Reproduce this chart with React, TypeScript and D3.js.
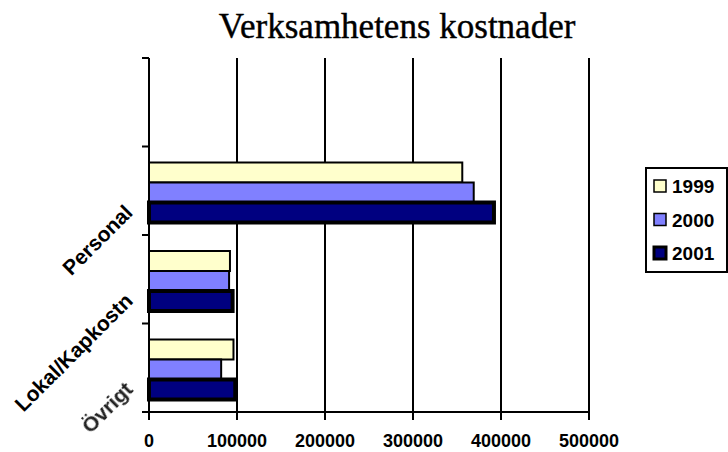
import React, { useRef, useEffect } from "react";
import * as d3 from "d3";

const categories = ["", "Personal", "Lokal/Kapkostn", "Övrigt"];
const years = ["1999", "2000", "2001"];
const values1999 = [null, 356000, 92000, 96000];
const values2000 = [null, 369000, 91000, 82000];
const values2001 = [null, 392000, 95000, 98000];
const xTicks = [0, 100000, 200000, 300000, 400000, 500000];

const fills = ["#FFFFCC", "#8080FF", "#000080"];

const App = () => {
  const ref = useRef<SVGSVGElement>(null);
  const width = 728;
  const height = 452;

  useEffect(() => {
    const svg = d3.select(ref.current);
    svg.selectAll("*").remove();

    const margin = { top: 58, left: 149, right: 589, bottom: 412 };
    const series = [values1999, values2000, values2001];

    const x = d3.scaleLinear().domain([0, 500000]).range([margin.left, margin.right]);
    const y = d3.scaleBand().domain(categories).range([margin.top, margin.bottom]);
    const y1 = d3.scaleBand().domain(years).range([16, 76]);

    const defs = svg.append("defs");
    defs
      .append("filter")
      .attr("id", "soft")
      .append("feGaussianBlur")
      .attr("stdDeviation", 0.6);

    // title
    svg
      .append("text")
      .attr("x", 397)
      .attr("y", 38)
      .attr("text-anchor", "middle")
      .attr("font-family", "'Liberation Serif', serif")
      .attr("font-size", 35)
      .attr("stroke", "#000")
      .attr("stroke-width", 0.4)
      .text("Verksamhetens kostnader");

    // gridlines
    svg
      .append("g")
      .selectAll("line")
      .data(xTicks.slice(1))
      .join("line")
      .attr("x1", (d) => x(d))
      .attr("x2", (d) => x(d))
      .attr("y1", margin.top)
      .attr("y2", margin.bottom)
      .attr("stroke", "#000")
      .attr("stroke-width", 2);

    // bars
    const g = svg.append("g");
    categories.forEach((c, i) => {
      years.forEach((yr, j) => {
        const v = series[j][i];
        if (v == null) return;
        const sw = j === 2 ? 4 : 2;
        g.append("rect")
          .attr("x", x(0))
          .attr("y", (y(c) as number) + (y1(yr) as number))
          .attr("width", x(v) - x(0))
          .attr("height", y1.bandwidth())
          .attr("fill", fills[j])
          .attr("stroke", "#000")
          .attr("stroke-width", sw);
      });
    });

    // x axis
    const xa = svg.append("g").attr("stroke", "#000").attr("stroke-width", 2);
    xa.append("line")
      .attr("x1", margin.left)
      .attr("x2", margin.right)
      .attr("y1", margin.bottom)
      .attr("y2", margin.bottom);
    xa.selectAll("line.tick")
      .data(xTicks)
      .join("line")
      .attr("class", "tick")
      .attr("x1", (d) => x(d))
      .attr("x2", (d) => x(d))
      .attr("y1", margin.bottom)
      .attr("y2", margin.bottom + 8);
    svg
      .append("g")
      .selectAll("text")
      .data(xTicks)
      .join("text")
      .attr("x", (d) => x(d))
      .attr("y", 447)
      .attr("text-anchor", "middle")
      .attr("font-family", "'Liberation Sans', Arial, sans-serif")
      .attr("font-weight", "bold")
      .attr("font-size", 18)
      .text((d) => String(d));

    // y axis
    const ya = svg.append("g").attr("stroke", "#000").attr("stroke-width", 2);
    ya.append("line")
      .attr("x1", margin.left)
      .attr("x2", margin.left)
      .attr("y1", margin.top)
      .attr("y2", margin.bottom);
    const yTickPos = categories.map((c) => y(c) as number).concat([margin.bottom]);
    ya.selectAll("line.tick")
      .data(yTickPos)
      .join("line")
      .attr("class", "tick")
      .attr("x1", margin.left - 7)
      .attr("x2", margin.left)
      .attr("y1", (d) => d)
      .attr("y2", (d) => d);

    // category labels
    svg
      .append("g")
      .selectAll("text")
      .data(categories.filter((c) => c !== ""))
      .join("text")
      .attr("transform", (d) => {
        const cy = (y(d) as number) + y.bandwidth() / 2 + 23;
        return `translate(134,${cy}) rotate(-45)`;
      })
      .attr("text-anchor", "end")
      .attr("font-family", "'Liberation Sans', Arial, sans-serif")
      .attr("font-weight", "bold")
      .attr("font-size", 21)
      .attr("fill", (d) => (d === "Övrigt" ? "#222" : "#000"))
      .attr("filter", (d) => (d === "Övrigt" ? "url(#soft)" : null))
      .text((d) => d);

    // legend
    const lg = svg.append("g");
    lg.append("rect")
      .attr("x", 646)
      .attr("y", 168)
      .attr("width", 81)
      .attr("height", 104)
      .attr("fill", "#fff")
      .attr("stroke", "#000")
      .attr("stroke-width", 2);
    years.forEach((yr, j) => {
      const cy = 186 + j * 33.5;
      lg.append("rect")
        .attr("x", 654)
        .attr("y", cy - 6)
        .attr("width", 12)
        .attr("height", 12)
        .attr("fill", fills[j])
        .attr("stroke", "#000")
        .attr("stroke-width", j === 2 ? 3 : 1.5);
      lg.append("text")
        .attr("x", 672)
        .attr("y", cy + 7)
        .attr("font-family", "'Liberation Sans', Arial, sans-serif")
        .attr("font-weight", "bold")
        .attr("font-size", 19)
        .text(yr);
    });
  }, []);

  return (
    <svg
      ref={ref}
      width={width}
      height={height}
      style={{ position: "absolute", left: 0, top: 0, background: "#fff" }}
    />
  );
};

export default App;
